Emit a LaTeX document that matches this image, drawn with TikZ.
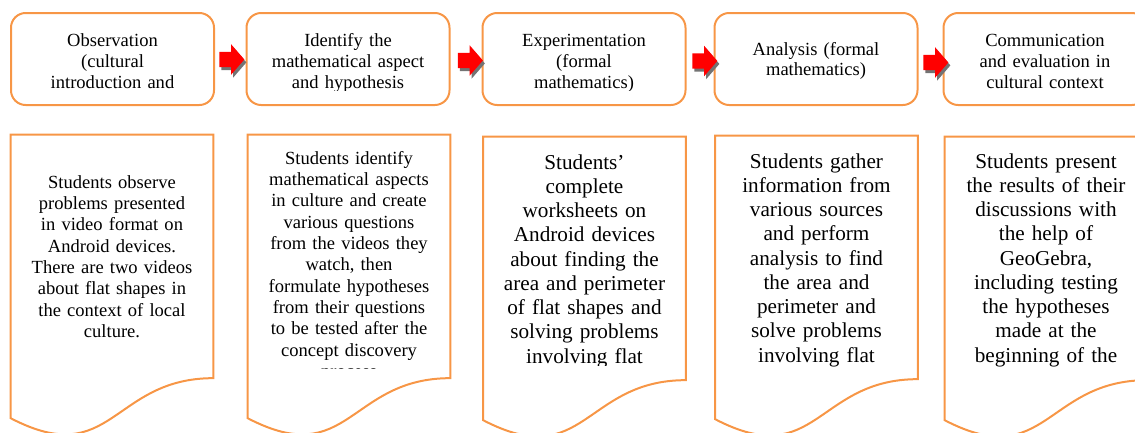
\documentclass[tikz,border=0pt]{standalone}
\usepackage{fontspec}
\setmainfont{Liberation Serif}
\usetikzlibrary{calc, shapes.arrows, shadows}

\definecolor{stageorange}{HTML}{F79646}
\definecolor{flowred}{HTML}{FF0000}

\begin{document}
\begin{tikzpicture}[x=0.75pt, y=-0.75pt,
    stage/.style={draw=stageorange, line width=1.5pt, rounded corners=11pt, minimum width=152.25pt, minimum height=69pt, inner sep=0pt},
    stagetext/.style={text width=150pt, align=center, inner sep=0pt, anchor=base, font=\fontsize{13.9pt}{15.75pt}\selectfont},
    sheet/.style={minimum width=151.5pt, minimum height=227.25pt, inner sep=0pt},
    sheetline/.style={draw=stageorange, line width=1.5pt, line join=miter},
    sheettext/.style={stagetext, font=\fontsize{13.9pt}{16pt}\selectfont},
    sheettextlg/.style={stagetext, font=\fontsize{15.9pt}{18.2pt}\selectfont},
    flowarrow/.style={single arrow, fill=flowred, inner xsep=0pt, inner ysep=5.6pt, minimum height=18.75pt, single arrow head extend=5.6pt, single arrow tip angle=98, drop shadow={shadow xshift=1.5pt, shadow yshift=-2.2pt, fill=black!55, opacity=1}}
]
\clip (0,0) rectangle (1135,432);

% stage headers
\node[stage] (obs) at (112.5,59) {};
\node[stage] (idf) at (348,59) {};
\node[stage] (exp) at (584,59) {};
\node[stage] (ana) at (816,59) {};
\node[stage] (com) at (1045,59) {};

\begin{scope}
\clip (0,15) rectangle (1135,90);
\node[stagetext] (obs-t) at (112.5,46) {Observation\\(cultural\\introduction and};
\node[stagetext] (idf-t) at (348,46) {Identify the\\mathematical aspect\\and hypothesis};
\node[stagetext] (exp-t) at (584,46) {Experimentation\\(formal\\mathematics)};
\node[stagetext] (ana-t) at (816,55) {Analysis (formal\\mathematics)};
\node[stagetext] (com-t) at (1045,46) {Communication\\and evaluation in\\cultural context};
\end{scope}

% block arrows between the stages
\node[flowarrow] (a1) at (228.5,59.5) {};
\node[flowarrow] (a2) at (467,60.5) {};
\node[flowarrow] (a3) at (701.5,61) {};
\node[flowarrow] (a4) at (932.5,62.5) {};

% activity sheets (document shape)
\node[sheet] (obs-d) at (112,286.5) {};
\node[sheet] (idf-d) at (349,286.5) {};
\node[sheet] (exp-d) at (584.5,288.5) {};
\node[sheet] (ana-d) at (816.5,287.5) {};
\node[sheet] (com-d) at (1046,288.5) {};

\foreach \n in {obs-d,idf-d,exp-d,ana-d,com-d}
  \draw[sheetline] (\n.north west) -- (\n.north east)
    -- ($(\n.north east)!0.802!(\n.south east)$)
    .. controls ($(\n.north)!0.802!(\n.south)$) and ($(\n.north)!1.1075!(\n.south)$)
    .. ($(\n.north west)!0.934!(\n.south west)$) -- cycle;

\begin{scope}
\clip (0,130) rectangle (470,368) (470,130) rectangle (700,365) (700,130) rectangle (1135,370);
\node[sheettext] (obs-x) at (112,188) {Students observe\\problems presented\\in video format on\\Android devices.\\There are two videos\\about flat shapes in\\the context of local\\culture.};
\node[sheettext] (idf-x) at (349,164) {Students identify\\mathematical aspects\\in culture and create\\various questions\\from the videos they\\watch, then\\formulate hypotheses\\from their questions\\to be tested after the\\concept discovery\\process};
\node[sheettextlg] (exp-x) at (584.5,169) {Students'\\complete\\worksheets on\\Android devices\\about finding the\\area and perimeter\\of flat shapes and\\solving problems\\involving flat};
\node[sheettextlg] (ana-x) at (816.5,168) {Students gather\\information from\\various sources\\and perform\\analysis to find\\the area and\\perimeter and\\solve problems\\involving flat};
\node[sheettextlg] (com-x) at (1046,168) {Students present\\the results of their\\discussions with\\the help of\\GeoGebra,\\including testing\\the hypotheses\\made at the\\beginning of the};
\end{scope}
\end{tikzpicture}
\end{document}
